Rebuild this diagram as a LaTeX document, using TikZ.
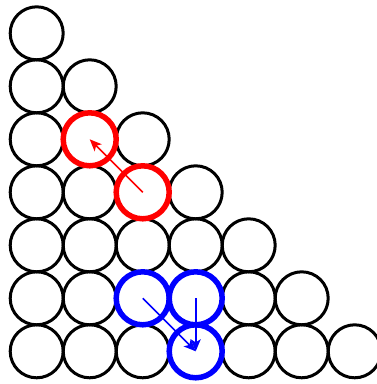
\documentclass[tikz,border=0pt]{standalone}
\usetikzlibrary{arrows.meta}
\begin{document}
\begin{tikzpicture}[x=1pt,y=-1pt,
  ball/.style={circle,draw=black,line width=3pt,minimum size=53pt,inner sep=0pt,outer sep=0pt},
  redball/.style={ball,draw=red,line width=5.5pt},
  blueball/.style={ball,draw=blue,line width=5.5pt},
  redarrow/.style={draw=red,line width=1.6pt,-{Stealth[length=12pt,width=10pt,inset=3pt]}},
  bluearrow/.style={draw=blue,line width=1.6pt,-{Stealth[length=12pt,width=10pt,inset=3pt]}}]
\useasboundingbox (0,0) rectangle (377,384);
\foreach \r in {0,...,6}{
  \foreach \c in {0,...,\r}{
    \node[ball] (b\r\c) at ({36.7+53*\c},{33.3+53*\r}) {};
  }
}
\node[redball] at (b21.center) {};
\node[redball] at (b32.center) {};
\node[blueball] at (b52.center) {};
\node[blueball] at (b53.center) {};
\node[blueball] at (b63.center) {};
\draw[redarrow] (b32.center) -- (b21.center);
\draw[bluearrow] (b52.center) -- (b63.center);
\draw[bluearrow] (b53.center) -- (b63.center);
\end{tikzpicture}
\end{document}
